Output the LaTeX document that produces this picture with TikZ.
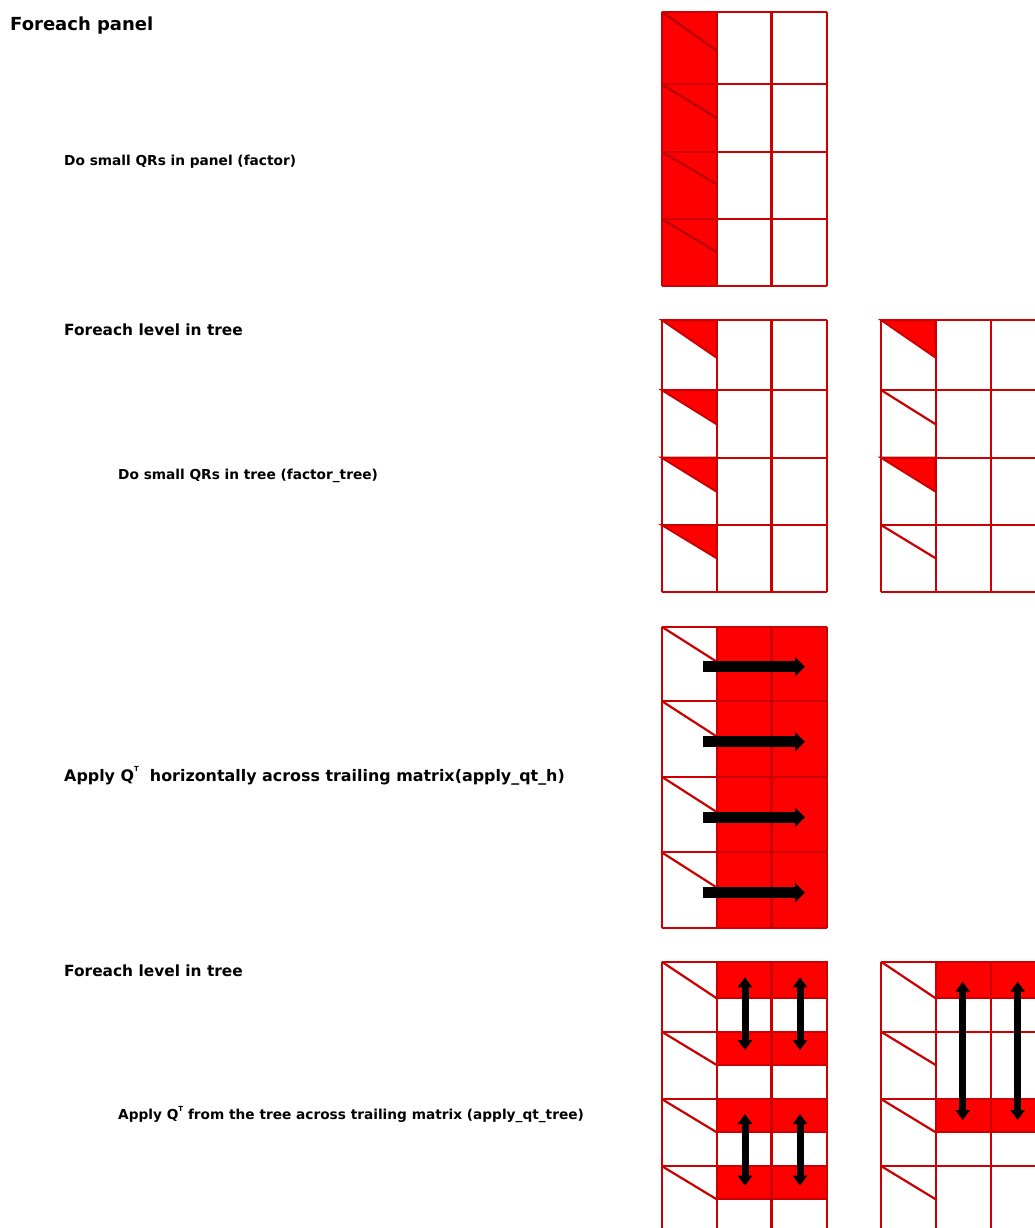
\documentclass[tikz,border=0pt]{standalone}
\usepackage{fontspec}
\setmainfont{DejaVu Sans}
\usetikzlibrary{arrows.meta}
\definecolor{gridred}{RGB}{204,0,0}
\definecolor{fillred}{RGB}{255,0,0}
\definecolor{darkred}{RGB}{185,0,0}
\newcommand{\supT}{\raisebox{0.62em}{\fontsize{7}{7}\selectfont T}}
\begin{document}
\begin{tikzpicture}[x=1pt,y=-1pt,
  gl/.style={draw=gridred,line width=2.2pt},
  gldark/.style={draw=darkred,line width=2.2pt},
  redfill/.style={fill=fillred},
  redbox/.style={fill=fillred,draw=gridred,line width=2pt},
  title/.style={anchor=base west,inner sep=0pt,font=\fontsize{18}{18}\selectfont\bfseries},
  head/.style={anchor=base west,inner sep=0pt,font=\fontsize{15.4}{15.4}\selectfont\bfseries},
  sub/.style={anchor=base west,inner sep=0pt,font=\fontsize{13.7}{13.7}\selectfont\bfseries},
  harrow/.style={line width=10.5pt,-{Triangle[length=10pt,width=19pt]}},
  varrow/.style={line width=7pt,{Triangle[length=10pt,width=14pt]}-{Triangle[length=10pt,width=14pt]}}
]
\useasboundingbox (0,0) rectangle (1035,1228);
\fill[white] (0,0) rectangle (1035,1228);
\clip (0,0) rectangle (1035,1228);

% ---------- texts ----------
\node[title] (t1) at (10,30.7) {Foreach panel};
\node[sub] (t2) at (64,165.5) {Do small QRs in panel (factor)};
\node[head] (t3) at (64,335.7) {Foreach level in tree};
\node[sub] (t4) at (118,479.7) {Do small QRs in tree (factor\_tree)};
\node[head,font=\fontsize{15.9}{15.9}\selectfont\bfseries] (t5) at (64,781.5) {Apply Q\supT\ \ horizontally across trailing matrix(apply\_qt\_h)};
\node[head] (t6) at (64,976.7) {Foreach level in tree};
\node[sub] (t7) at (118,1119.5) {Apply Q\supT\ from the tree across trailing matrix (apply\_qt\_tree)};

% ---------- grid 1 ----------
\fill[redfill] (661.7,11.7) rectangle (716.7,286);
\foreach \t/\d in {11.7/50.7, 84.3/118, 151.7/184.3, 219/252}
  \draw[gldark] (661.7,\t) -- (716.7,\d);
\foreach \x in {661.7,716.7,771.5,826.7}
  \draw[gl] (\x,11.7) -- (\x,286);
\foreach \y in {11.7,84.3,151.7,219,286}
  \draw[gl] (661.7,\y) -- (826.7,\y);

% ---------- grid 2 left ----------
\foreach \t/\d in {320/357.7, 390/424.3, 457.7/491.7, 525/558.3}
  \filldraw[redbox] (661.7,\t) -- (716.7,\t) -- (716.7,\d) -- cycle;
\foreach \x in {661.7,716.7,771.5,826.7}
  \draw[gl] (\x,320) -- (\x,592.3);
\foreach \y in {320,390,457.7,525,592.3}
  \draw[gl] (661.7,\y) -- (826.7,\y);

% ---------- grid 2 right ----------
\foreach \t/\d in {320/357.7, 457.7/491.7}
  \filldraw[redbox] (881,\t) -- (935.7,\t) -- (935.7,\d) -- cycle;
\foreach \t/\d in {390/424.3, 525/558.3}
  \draw[gl] (881,\t) -- (935.7,\d);
\foreach \x in {881,935.7,990.7,1045.7}
  \draw[gl] (\x,320) -- (\x,592.3);
\foreach \y in {320,390,457.7,525,592.3}
  \draw[gl] (881,\y) -- (1050,\y);

% ---------- grid 3 ----------
\fill[redfill] (716.7,626.7) rectangle (826.7,927.7);
\foreach \t/\d in {626.7/661.7, 701/736.5, 776.7/812, 852.3/887.5}
  \draw[gl] (661.7,\t) -- (716.7,\d);
\foreach \x in {661.7,716.7,771.5,826.7}
  \draw[gl] (\x,626.7) -- (\x,927.7);
\foreach \y in {626.7,701,776.7,852.3,927.7}
  \draw[gl] (661.7,\y) -- (826.7,\y);
\foreach \i/\y in {1/666.7, 2/741.7, 3/817.3, 4/892.7} {
  \coordinate (ha\i) at (703.3,\y);
  \coordinate (hb\i) at (805,\y);
  \draw[harrow] (ha\i) -- (hb\i);
}

% ---------- grid 4 left ----------
\foreach \t/\d in {961.7/998.3, 1031.7/1065, 1099/1132.3, 1166/1199.3} {
  \filldraw[redbox] (716.7,\t) rectangle (826.7,\d);
  \draw[gl] (661.7,\t) -- (716.7,\d);
}
\foreach \x in {661.7,716.7,771.5,826.7}
  \draw[gl] (\x,961.7) -- (\x,1240);
\foreach \y in {961.7,1031.7,1099,1166,1233}
  \draw[gl] (661.7,\y) -- (826.7,\y);
\foreach \i/\x in {1/745,2/800} {
  \coordinate (va\i) at (\x,977.3);
  \coordinate (vb\i) at (\x,1050);
  \coordinate (vc\i) at (\x,1114);
  \coordinate (vd\i) at (\x,1185.7);
  \draw[varrow] (va\i) -- (vb\i);
  \draw[varrow] (vc\i) -- (vd\i);
}

% ---------- grid 4 right ----------
\foreach \t/\d in {961.7/998.3, 1099/1132.3}
  \filldraw[redbox] (935.7,\t) rectangle (1050,\d);
\foreach \t/\d in {961.7/998.3, 1031.7/1065, 1099/1132.3, 1166/1199.3}
  \draw[gl] (881,\t) -- (935.7,\d);
\foreach \x in {881,935.7,990.7,1045.7}
  \draw[gl] (\x,961.7) -- (\x,1240);
\foreach \y in {961.7,1031.7,1099,1166,1233}
  \draw[gl] (881,\y) -- (1050,\y);
\foreach \i/\x in {1/962.7,2/1017.7} {
  \coordinate (wa\i) at (\x,981.7);
  \coordinate (wb\i) at (\x,1120);
  \draw[varrow] (wa\i) -- (wb\i);
}
\end{tikzpicture}
\end{document}
